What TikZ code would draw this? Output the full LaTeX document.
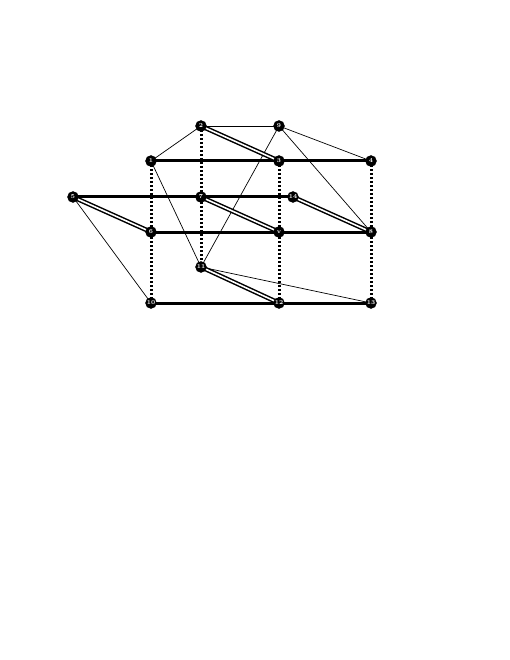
\documentclass[tikz,border=0pt]{standalone}
\begin{document}
\begin{tikzpicture}[x=1pt,y=-1pt,
  vtx/.style={circle,fill=black,draw=black,inner sep=0pt,minimum size=11pt,text=white,font=\fontsize{6}{6}\selectfont\bfseries},
  thin edge/.style={line width=0.7pt},
  heavy/.style={line width=3pt},
  dbl/.style={double=white,double distance=1.6pt,line width=1.5pt},
  vdots/.style={line width=3pt,dash pattern=on 2.2pt off 1.8pt}]
\useasboundingbox (0,0) rectangle (510,660);
\coordinate (p1) at (151,161);
\coordinate (p2) at (201,126);
\coordinate (p3) at (279,161);
\coordinate (p4) at (371,161);
\coordinate (p5) at (73,197);
\coordinate (p6) at (151,232);
\coordinate (p7) at (201,197);
\coordinate (p8) at (371,232);
\coordinate (p9) at (279,126);
\coordinate (p10) at (151,303);
\coordinate (p11) at (201,267);
\coordinate (p12) at (279,303);
\coordinate (p13) at (371,303);
\coordinate (p14) at (293,197);
\coordinate (p15) at (279,232);
% thin edges
\draw[thin edge] (p1) -- (p2);
\draw[thin edge] (p2) -- (p9);
\draw[thin edge] (p9) -- (p4);
\draw[thin edge] (p9) -- (p8);
\draw[thin edge] (p9) -- (p11);
\draw[thin edge] (p1) -- (p11);
\draw[thin edge] (p5) -- (p10);
\draw[thin edge] (p11) -- (p13);
% dotted verticals
\draw[vdots] (p1) -- (p10);
\draw[vdots] (p2) -- (p11);
\draw[vdots] (p3) -- (p12);
\draw[vdots] (p4) -- (p13);
% thick edges
\draw[heavy] (p1) -- (p3);
\draw[heavy] (p3) -- (p4);
\draw[heavy] (p5) -- (p7);
\draw[heavy] (p7) -- (p14);
\draw[heavy] (p6) -- (p15);
\draw[heavy] (p15) -- (p8);
\draw[heavy] (p10) -- (p12);
\draw[heavy] (p12) -- (p13);
% double edges
\draw[dbl] (p2) -- (p3);
\draw[dbl] (p5) -- (p6);
\draw[dbl] (p7) -- (p15);
\draw[dbl] (p14) -- (p8);
\draw[dbl] (p11) -- (p12);
% nodes
\foreach \i in {1,...,14} { \node[vtx] (n\i) at (p\i) {\i}; }
\node[vtx] (n15) at (p15) {v};
\end{tikzpicture}
\end{document}
